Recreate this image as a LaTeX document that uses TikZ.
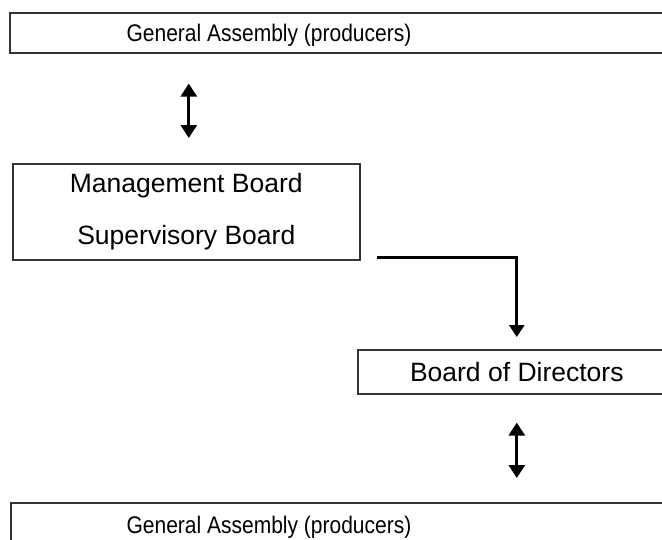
\documentclass[tikz,border=0pt]{standalone}
\usepackage{fontspec}
\setmainfont{Liberation Sans}
\usetikzlibrary{positioning,arrows.meta}

\begin{document}
\begin{tikzpicture}[x=1pt,y=-1pt,
    box/.style={draw=black!80,line width=1.6pt,inner sep=0pt,anchor=north west},
    updown/.style={{Triangle[width=16pt,length=13pt]}-{Triangle[width=16pt,length=13pt]},line width=3pt},
    flow/.style={-{Triangle[width=15pt,length=12pt]},line width=3pt}]
    \useasboundingbox (0,0) rectangle (662,539);
    \clip (0,0) rectangle (662,539);
    %%%%% THE BOXES
    \begin{scope}[every node/.style={box,font=\fontsize{26.5}{51.5}\selectfont,align=center}]
      \node[minimum width=690pt,minimum height=40pt] (GAtop) at (9,12) {};
      \node[minimum width=347pt,minimum height=96pt] (MB) at (12,163) {Management Board\\Supervisory Board};
      \node[minimum width=318pt,minimum height=44pt] (BD) at (357,349) {Board of Directors};
      \node[minimum width=690pt,minimum height=60pt] (GAbot) at (10,502) {};
    \end{scope}
    %%%%% THE TEXTS OF THE WIDE BOXES
    \begin{scope}[every node/.style={inner sep=0pt,anchor=base,xscale=0.875,transform shape,font=\fontsize{24}{28}\selectfont}]
      \node (GAtoptext) at (269,41.5) {General Assembly (producers)};
      \node (GAbottext) at (269,533) {General Assembly (producers)};
    \end{scope}
    %%%% LINKS
    \coordinate (MBout) at ([xshift=16pt,yshift=3pt]MB.south east);
    \draw[updown,shorten <=30pt,shorten >=25pt] ([xshift=2.5pt]MB.north |- GAtop.south) -- ([xshift=2.5pt]MB.north);
    \draw[flow,shorten >=12pt] (MBout) -| (BD.north);
    \draw[updown,shorten <=28pt,shorten >=24pt] (BD.south) -- (BD.south |- GAbot.north);
  \end{tikzpicture}
\end{document}
